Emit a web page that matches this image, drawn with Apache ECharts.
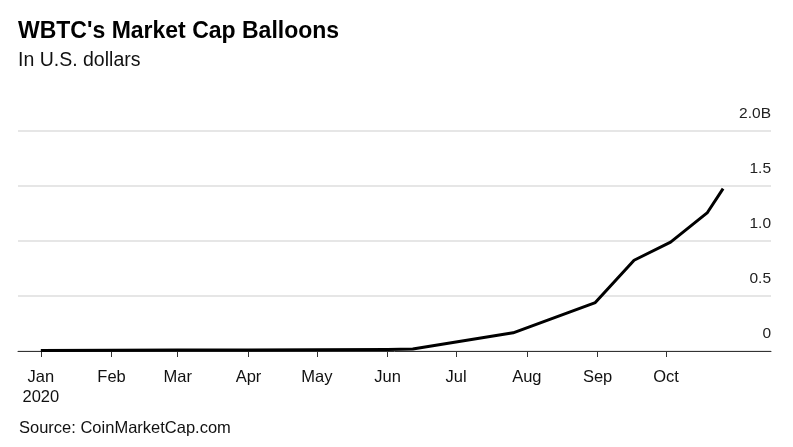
<!DOCTYPE html>
<html>
<head>
<meta charset="utf-8">
<script src="https://cdn.jsdelivr.net/npm/echarts@6/dist/echarts.min.js"></script>
<style>
  html, body { margin: 0; padding: 0; background: #fff; }
  #chart { width: 793px; height: 447px; }
</style>
</head>
<body>
<div id="chart"></div>
<script>
// WBTC market cap, billions of USD
var dates = ['2020-01-01', '2020-02-01', '2020-03-01', '2020-04-01', '2020-05-01', '2020-06-01',
             '2020-06-12', '2020-07-26', '2020-08-31', '2020-09-17', '2020-10-03', '2020-10-19', '2020-10-26'];
var marketCap = [0.004, 0.006, 0.008, 0.010, 0.012, 0.014,
                 0.018, 0.165, 0.44, 0.825, 0.99, 1.255, 1.476];

var monthLabels = ['Jan', 'Feb', 'Mar', 'Apr', 'May', 'Jun', 'Jul', 'Aug', 'Sep', 'Oct'];
var yTickLabels = ['0', '0.5', '1.0', '1.5', '2.0B'];

function ts(s) {
    var p = s.split('-');
    return Date.UTC(+p[0], +p[1] - 1, +p[2]);
}

var monthTicks = monthLabels.map(function (m, i) { return Date.UTC(2020, i, 1); });
var seriesData = dates.map(function (d, i) { return [ts(d), marketCap[i]]; });

var font = '"Liberation Sans", Arial, Helvetica, sans-serif';

var chart = echarts.init(document.getElementById('chart'));

chart.setOption({
    animation: false,
    backgroundColor: '#fff',
    title: {
        text: "WBTC's Market Cap Balloons",
        subtext: 'In U.S. dollars',
        left: 18,
        top: 19,
        itemGap: 5,
        padding: 0,
        textStyle: {fontFamily: font, fontSize: 23, fontWeight: 'bold', color: '#000', lineHeight: 26},
        subtextStyle: {fontFamily: font, fontSize: 19.5, color: '#111', lineHeight: 22}
    },
    graphic: [{
        type: 'text',
        left: 19,
        top: 420,
        style: {text: 'Source: CoinMarketCap.com', font: '16.5px ' + font, fill: '#111'}
    }],
    grid: {left: 18, right: 22, top: 131, bottom: 96, containLabel: false},
    xAxis: {
        type: 'value',
        min: ts('2019-12-22'),
        max: ts('2020-11-16'),
        splitLine: {show: false},
        axisLine: {lineStyle: {color: '#333', width: 1}},
        axisTick: {
            customValues: monthTicks,
            length: 6,
            lineStyle: {color: '#333'}
        },
        axisLabel: {
            customValues: monthTicks,
            margin: 16,
            fontFamily: font,
            fontSize: 16.5,
            color: '#111',
            lineHeight: 20,
            verticalAlign: 'top',
            formatter: function (v) {
                var m = new Date(v).getUTCMonth();
                return m === 0 ? monthLabels[0] + '\n2020' : monthLabels[m];
            }
        }
    },
    yAxis: {
        type: 'value',
        position: 'right',
        min: 0,
        max: 2,
        interval: 0.5,
        axisLine: {show: false},
        axisTick: {show: false},
        splitLine: {lineStyle: {color: '#dedede', width: 1.5}},
        axisLabel: {
            inside: true,
            margin: 0,
            verticalAlign: 'bottom',
            padding: [0, 0, 9, 0],
            fontFamily: font,
            fontSize: 15.5,
            color: '#222',
            formatter: function (v) { return yTickLabels[Math.round(v / 0.5)]; }
        }
    },
    series: [{
        type: 'line',
        data: seriesData,
        showSymbol: false,
        lineStyle: {color: '#000', width: 3, join: 'round'}
    }]
});
</script>
</body>
</html>
